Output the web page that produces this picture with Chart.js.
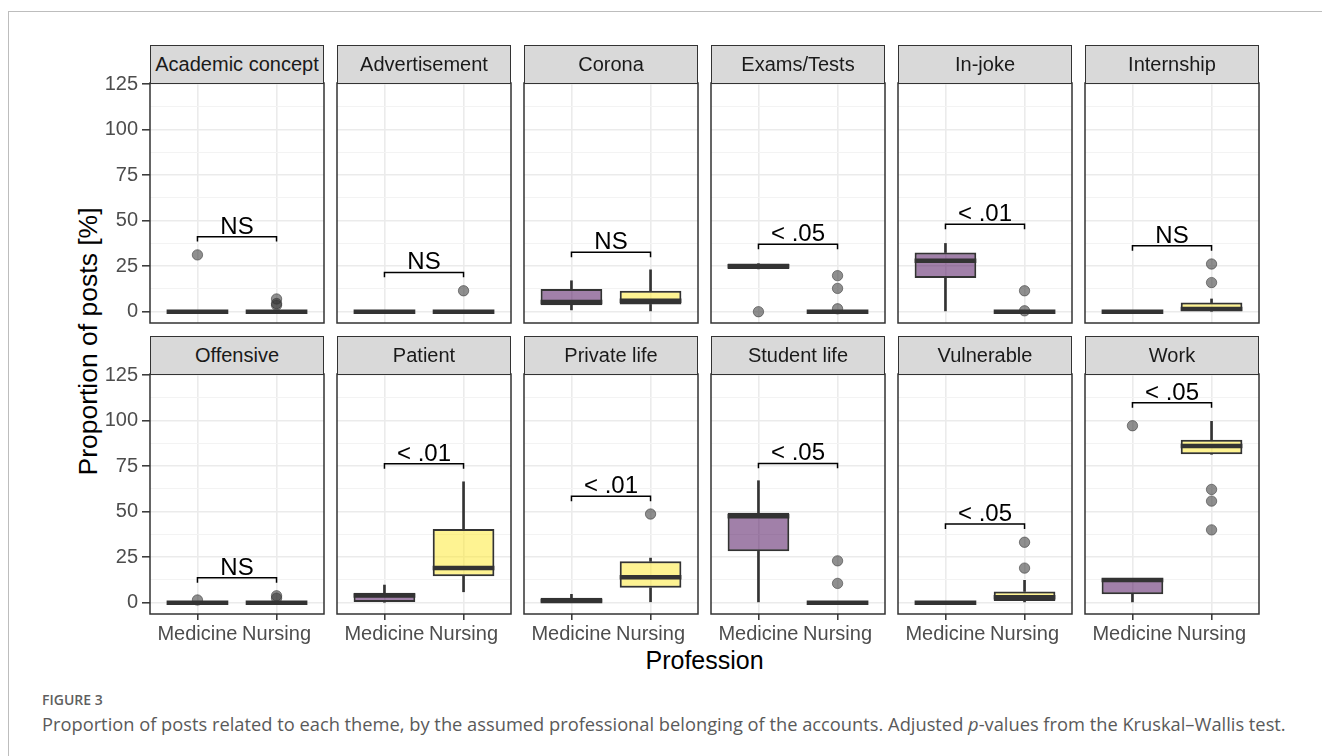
<!DOCTYPE html>
<html>
<head>
<meta charset="utf-8">
<script src="https://cdn.jsdelivr.net/npm/chart.js@4.4.1/dist/chart.umd.min.js"></script>
<style>
  html, body { margin: 0; padding: 0; background: #fff; }
  body { width: 1322px; height: 756px; position: relative; overflow: hidden; font-family: "Liberation Sans", Arial, sans-serif; }
  .frame { position: absolute; left: 8px; top: 11px; width: 1340px; height: 780px; border-left: 1px solid #bdbdbd; border-top: 1px solid #bdbdbd; }
  .strip { position: absolute; box-sizing: border-box; background: #d9d9d9; border: 1px solid #333; display: flex; align-items: center; justify-content: center; font-size: 20px; color: #1a1a1a; white-space: nowrap; z-index: 2; }
  canvas { position: absolute; z-index: 1; }
  .ytitle { position: absolute; font-size: 26.5px; color: #000; white-space: nowrap; transform-origin: center center; }
  .xtitle { position: absolute; font-size: 25px; color: #000; white-space: nowrap; }
  .figlabel { position: absolute; font-family: "Open Sans", sans-serif; font-weight: 600; font-size: 14px; color: #5f5f5f; }
  .caption { position: absolute; font-family: "Open Sans", sans-serif; font-size: 18.3px; color: #5a5a5a; white-space: nowrap; line-height: 20px; }
</style>
</head>
<body>
<div class="frame"></div>
<div id="plot"></div>
<div class="ytitle" id="ytitle">Proportion of posts [%]</div>
<div class="xtitle" id="xtitle">Profession</div>
<div class="figlabel" style="left:42px; top:690px;">FIGURE 3</div>
<div class="caption" style="left:42px; top:714px;">Proportion of posts related to each theme, by the assumed professional belonging of the accounts. Adjusted <i>p</i>-values from the Kruskal–Wallis test.</div>

<script>
// Themes (facets) and the two professions on each x axis
const themes = ['Academic concept', 'Advertisement', 'Corona', 'Exams/Tests', 'In-joke', 'Internship',
                'Offensive', 'Patient', 'Private life', 'Student life', 'Vulnerable', 'Work'];
const professions = ['Medicine', 'Nursing'];

// Box statistics per theme, Medicine
const medicineQ1      = [0, 0, 3.5, 23.5, 18.5, 0, 0, 0,   0,   28.2, 0, 4.6];
const medicineMedian  = [0, 0, 5.3, 25,   28,   0, 0, 4,   1,   47.5, 0, 12.5];
const medicineQ3      = [0, 0, 12.5, 26.5, 32.5, 0, 0, 5.5, 2.7, 49.4, 0, 13.4];
const medicineLow     = [0, 0, 1,   23.5, 0,    0, 0, 0,   0,   0,    0, 0];
const medicineHigh    = [0, 0, 17,  26.5, 37.5, 0, 0, 9.7, 4.6, 67,   0, 13.4];
const medicineOutliers = [[31.2], [], [], [0], [], [], [1.5], [], [], [], [], [97.2]];

// Box statistics per theme, Nursing
const nursingQ1      = [0, 0, 4,    0, 0, 0,   0, 14.5, 8.2,  0, 1,    81.5];
const nursingMedian  = [0, 0, 6,    0, 0, 1.5, 0, 19,   14,   0, 3,    86];
const nursingQ3      = [0, 0, 11.5, 0, 0, 5,   0, 40.5, 22.7, 0, 6.2,  89.5];
const nursingLow     = [0, 0, 0,    0, 0, 0,   0, 6,    0.5,  0, 0,    81.5];
const nursingHigh    = [0, 0, 23,   0, 0, 7,   0, 66.4, 24.5, 0, 12.3, 99.6];
const nursingOutliers = [[7, 4.5, 3.6], [11.5], [], [19.8, 12.8, 1.6], [11.5, 0.5], [16, 26.2],
                         [3.8, 2.5], [], [48.7], [23, 10.6], [19, 33.2], [62.2, 55.8, 40]];

// Significance brackets: height and adjusted p-value label
const bracketHeight = [41.2, 21.6, 32.6, 37, 48, 36.2, 13.7, 76.3, 58.4, 76.5, 43.2, 109.8];
const pLabels = ['NS', 'NS', 'NS', '< .05', '< .01', 'NS', 'NS', '< .01', '< .01', '< .05', '< .05', '< .05'];

// Y axis ticks (major every 25, minor halfway)
const yTicks = [0, 12.5, 25, 37.5, 50, 62.5, 75, 87.5, 100, 112.5, 125];

// Layout of the facet grid
const COL_X = [150, 337, 524, 711, 898, 1085];
const ROW_Y = [83, 374];
const PANEL_W = 174, PANEL_H = 240, STRIP_H = 38;
const Y_AXIS_W = 70, X_AXIS_H = 42, PAD = 3, PAD_TOP = 16;
const BOX_W = 0.78;
const FONT = '"Liberation Sans", Arial, sans-serif';
const PURPLE = 'rgba(68, 1, 84, 0.5)';
const YELLOW = 'rgba(253, 231, 37, 0.5)';
const DARK = '#333333';

const isMajor = v => Math.abs(v % 25) < 1e-9;

// Panel border plus bracket label
const panelDecor = {
  id: 'panelDecor',
  afterDatasetsDraw(chart, args, opts) {
    const {ctx, scales} = chart;
    ctx.save();
    ctx.font = '24px ' + FONT;
    ctx.fillStyle = '#000';
    ctx.textAlign = 'center';
    ctx.textBaseline = 'alphabetic';
    ctx.fillText(opts.label, scales.x.getPixelForValue(1.5), scales.y.getPixelForValue(opts.height) - 3);
    ctx.restore();
  },
  afterDraw(chart) {
    const {ctx, chartArea: a} = chart;
    ctx.save();
    ctx.strokeStyle = DARK;
    ctx.lineWidth = 1.5;
    ctx.strokeRect(a.left, a.top, a.right - a.left, a.bottom - a.top);
    ctx.restore();
  }
};

const plot = document.getElementById('plot');

themes.forEach((theme, i) => {
  const r = Math.floor(i / 6), c = i % 6;
  const yw = c === 0 ? Y_AXIS_W : 0;
  const xh = r === 1 ? X_AXIS_H : 0;
  const pb = r === 1 ? 0 : PAD;
  const left = COL_X[c] - PAD - yw;
  const top = ROW_Y[r] - PAD_TOP;
  const w = PANEL_W + 2 * PAD + yw;
  const h = PAD_TOP + PANEL_H + xh + pb;

  // strip header
  const strip = document.createElement('div');
  strip.className = 'strip';
  strip.style.left = COL_X[c] + 'px';
  strip.style.top = (ROW_Y[r] - STRIP_H) + 'px';
  strip.style.width = PANEL_W + 'px';
  strip.style.height = (STRIP_H + 1) + 'px';
  strip.textContent = theme;
  plot.appendChild(strip);

  const canvas = document.createElement('canvas');
  canvas.width = w; canvas.height = h;
  canvas.style.left = left + 'px'; canvas.style.top = top + 'px';
  canvas.style.width = w + 'px'; canvas.style.height = h + 'px';
  plot.appendChild(canvas);

  const q1 = [medicineQ1[i], nursingQ1[i]];
  const q3 = [medicineQ3[i], nursingQ3[i]];
  const med = [medicineMedian[i], nursingMedian[i]];
  const lo = [medicineLow[i], nursingLow[i]];
  const hi = [medicineHigh[i], nursingHigh[i]];
  const outs = [medicineOutliers[i], nursingOutliers[i]];

  const medianPts = [];
  med.forEach((m, k) => {
    if (k > 0) medianPts.push({x: k + 0.5, y: null});
    medianPts.push({x: k + 1 - BOX_W / 2, y: m}, {x: k + 1 + BOX_W / 2, y: m});
  });
  const outlierPts = [];
  outs.forEach((list, k) => list.forEach(v => outlierPts.push({x: k + 1, y: v})));
  const bh = bracketHeight[i];

  new Chart(canvas, {
    type: 'bar',
    data: {
      datasets: [
        { type: 'line', data: [{x: 1, y: bh - 2.7}, {x: 1, y: bh}, {x: 2, y: bh}, {x: 2, y: bh - 2.7}],
          borderColor: '#000', borderWidth: 1.5, pointRadius: 0, fill: false, order: 1 },
        { type: 'scatter', data: outlierPts, pointRadius: 5.2, pointBackgroundColor: 'rgba(51,51,51,0.55)',
          pointBorderColor: 'rgba(51,51,51,0.55)', pointBorderWidth: 1, order: 2 },
        { type: 'line', data: medianPts, borderColor: DARK, borderWidth: 4.5, borderCapStyle: 'butt',
          pointRadius: 0, spanGaps: false, fill: false, order: 3 },
        { type: 'bar', data: q1.map((v, k) => ({x: k + 1, y: [v, q3[k]]})),
          backgroundColor: [PURPLE, YELLOW], borderColor: DARK, borderWidth: 2, borderSkipped: false,
          grouped: false, categoryPercentage: 1, barPercentage: BOX_W, order: 4 },
        { type: 'bar', data: lo.map((v, k) => ({x: k + 1, y: [v, q1[k]]})),
          backgroundColor: DARK, borderWidth: 0, grouped: false, barThickness: 2, order: 5 },
        { type: 'bar', data: hi.map((v, k) => ({x: k + 1, y: [q3[k], v]})),
          backgroundColor: DARK, borderWidth: 0, grouped: false, barThickness: 2, order: 5 }
      ]
    },
    options: {
      responsive: false,
      animation: false,
      events: [],
      layout: { autoPadding: false, padding: { left: PAD, right: PAD, top: PAD_TOP, bottom: pb } },
      plugins: { legend: { display: false }, tooltip: { enabled: false }, panelDecor: { label: pLabels[i], height: bh } },
      scales: {
        x: {
          type: 'linear', min: 0.4, max: 2.6, offset: false,
          afterBuildTicks: s => { s.ticks = [{value: 1}, {value: 2}]; },
          afterFit: s => { s.height = xh; s.paddingLeft = 0; s.paddingRight = 0; },
          ticks: { display: r === 1, autoSkip: false, maxRotation: 0, padding: 2,
                   font: { family: FONT, size: 20 }, color: '#4d4d4d',
                   callback: v => professions[Math.round(v) - 1] },
          grid: { offset: false, color: '#ebebeb', lineWidth: 1.6, drawTicks: r === 1, tickLength: 6, tickColor: DARK, tickWidth: 1.5 },
          border: { display: false }
        },
        y: {
          type: 'linear', min: -6.2, max: 125.6,
          afterBuildTicks: s => { s.ticks = yTicks.map(v => ({value: v})); },
          afterFit: s => { s.width = yw; s.paddingTop = 0; s.paddingBottom = 0; },
          ticks: { display: c === 0, autoSkip: false, padding: 4,
                   font: { family: FONT, size: 20 }, color: '#4d4d4d',
                   callback: v => isMajor(v) ? String(v) : '' },
          grid: {
            color: ctx => isMajor(ctx.tick.value) ? '#ebebeb' : '#f3f3f3',
            lineWidth: ctx => isMajor(ctx.tick.value) ? 1.6 : 1.1,
            drawTicks: c === 0, tickLength: 8,
            tickColor: ctx => isMajor(ctx.tick.value) ? DARK : 'rgba(0,0,0,0)', tickWidth: 1.5
          },
          border: { display: false }
        }
      }
    },
    plugins: [panelDecor]
  });
});

// Axis titles
const yt = document.getElementById('ytitle');
const ytw = yt.offsetWidth, yth = yt.offsetHeight;
yt.style.left = (88 - ytw / 2) + 'px';
yt.style.top = (341 - yth / 2) + 'px';
yt.style.transform = 'rotate(-90deg)';
const xt = document.getElementById('xtitle');
xt.style.left = (704.5 - xt.offsetWidth / 2) + 'px';
xt.style.top = (660 - xt.offsetHeight / 2) + 'px';
</script>
</body>
</html>
